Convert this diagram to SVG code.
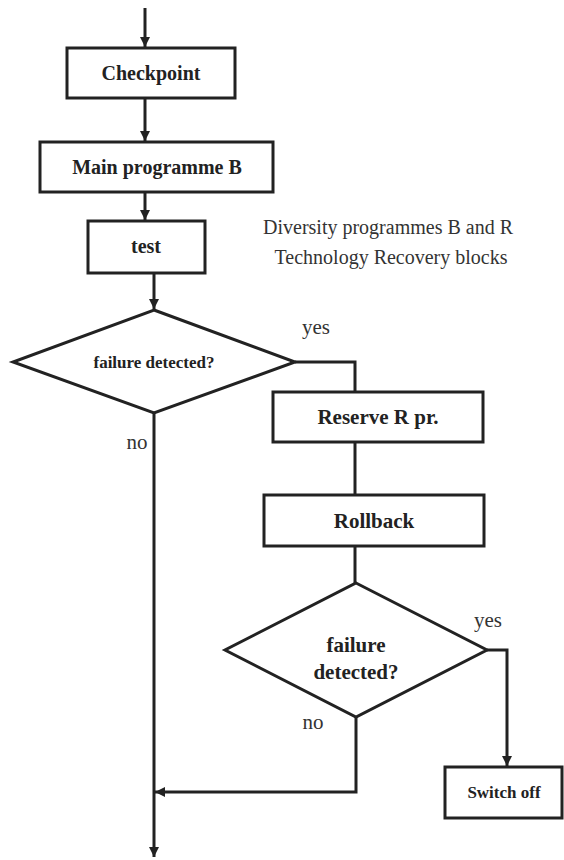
<svg xmlns="http://www.w3.org/2000/svg" width="564" height="860" viewBox="0 0 564 860">
<defs>
<marker id="ah" viewBox="0 0 10 10" refX="10" refY="5" markerWidth="10" markerHeight="10" markerUnits="userSpaceOnUse" orient="auto">
<path d="M0,0 L10,5 L0,10 z" fill="#222"/>
</marker>
<style>
.box{fill:#fff;stroke:#222;stroke-width:3}
.ln{fill:none;stroke:#222;stroke-width:3}
.b{font-family:"Liberation Serif",serif;font-weight:bold;fill:#222;text-anchor:middle}
.r{font-family:"Liberation Serif",serif;fill:#333;text-anchor:middle}
</style>
</defs>
<rect width="564" height="860" fill="#fff"/>
<g id="connectors">
<line class="ln" x1="145" y1="8" x2="145" y2="47" marker-end="url(#ah)"/>
<line class="ln" x1="145" y1="98" x2="145" y2="141" marker-end="url(#ah)"/>
<line class="ln" x1="145" y1="192" x2="145" y2="220" marker-end="url(#ah)"/>
<line class="ln" x1="154" y1="273" x2="154" y2="309" marker-end="url(#ah)"/>
<polyline class="ln" points="295,362 355,362 355,392"/>
<line class="ln" x1="355" y1="442" x2="355" y2="495"/>
<line class="ln" x1="355" y1="546" x2="355" y2="583"/>
<polyline class="ln" points="487,650 507,650 507,766" marker-end="url(#ah)"/>
<polyline class="ln" points="356,717 356,792 155,792" marker-end="url(#ah)"/>
<line class="ln" x1="154" y1="413" x2="154" y2="857" marker-end="url(#ah)"/>
<text class="r" x="316" y="334" font-size="21">yes</text>
<text class="r" x="137" y="449" font-size="21">no</text>
<text class="r" x="488" y="627" font-size="21">yes</text>
<text class="r" x="313" y="729" font-size="21">no</text>
</g>
<g id="checkpoint">
<rect class="box" x="67" y="48" width="168" height="50"/>
<text class="b" x="151" y="80" font-size="20">Checkpoint</text>
</g>
<g id="main">
<rect class="box" x="40" y="142" width="233" height="50"/>
<text class="b" x="157" y="174" font-size="20">Main programme B</text>
</g>
<g id="test">
<rect class="box" x="88" y="221" width="117" height="52"/>
<text class="b" x="146" y="253" font-size="20">test</text>
</g>
<g id="note">
<text class="r" x="388" y="234" font-size="20">Diversity programmes B and R</text>
<text class="r" x="391" y="264" font-size="20">Technology Recovery blocks</text>
</g>
<g id="decision1">
<polygon class="box" points="154,310 295,362 154,413 13,362"/>
<text class="b" x="154" y="368" font-size="17">failure detected?</text>
</g>
<g id="reserve">
<rect class="box" x="273" y="392" width="210" height="50"/>
<text class="b" x="378" y="424" font-size="21">Reserve R pr.</text>
</g>
<g id="rollback">
<rect class="box" x="264" y="495" width="220" height="51"/>
<text class="b" x="374" y="528" font-size="21">Rollback</text>
</g>
<g id="decision2">
<polygon class="box" points="356,583 487,650 356,717 225,650"/>
<text class="b" x="356" y="652" font-size="21">failure</text>
<text class="b" x="356" y="679" font-size="21">detected?</text>
</g>
<g id="switchoff">
<rect class="box" x="445" y="767" width="117" height="51"/>
<text class="b" x="504" y="798" font-size="17">Switch off</text>
</g>
</svg>
